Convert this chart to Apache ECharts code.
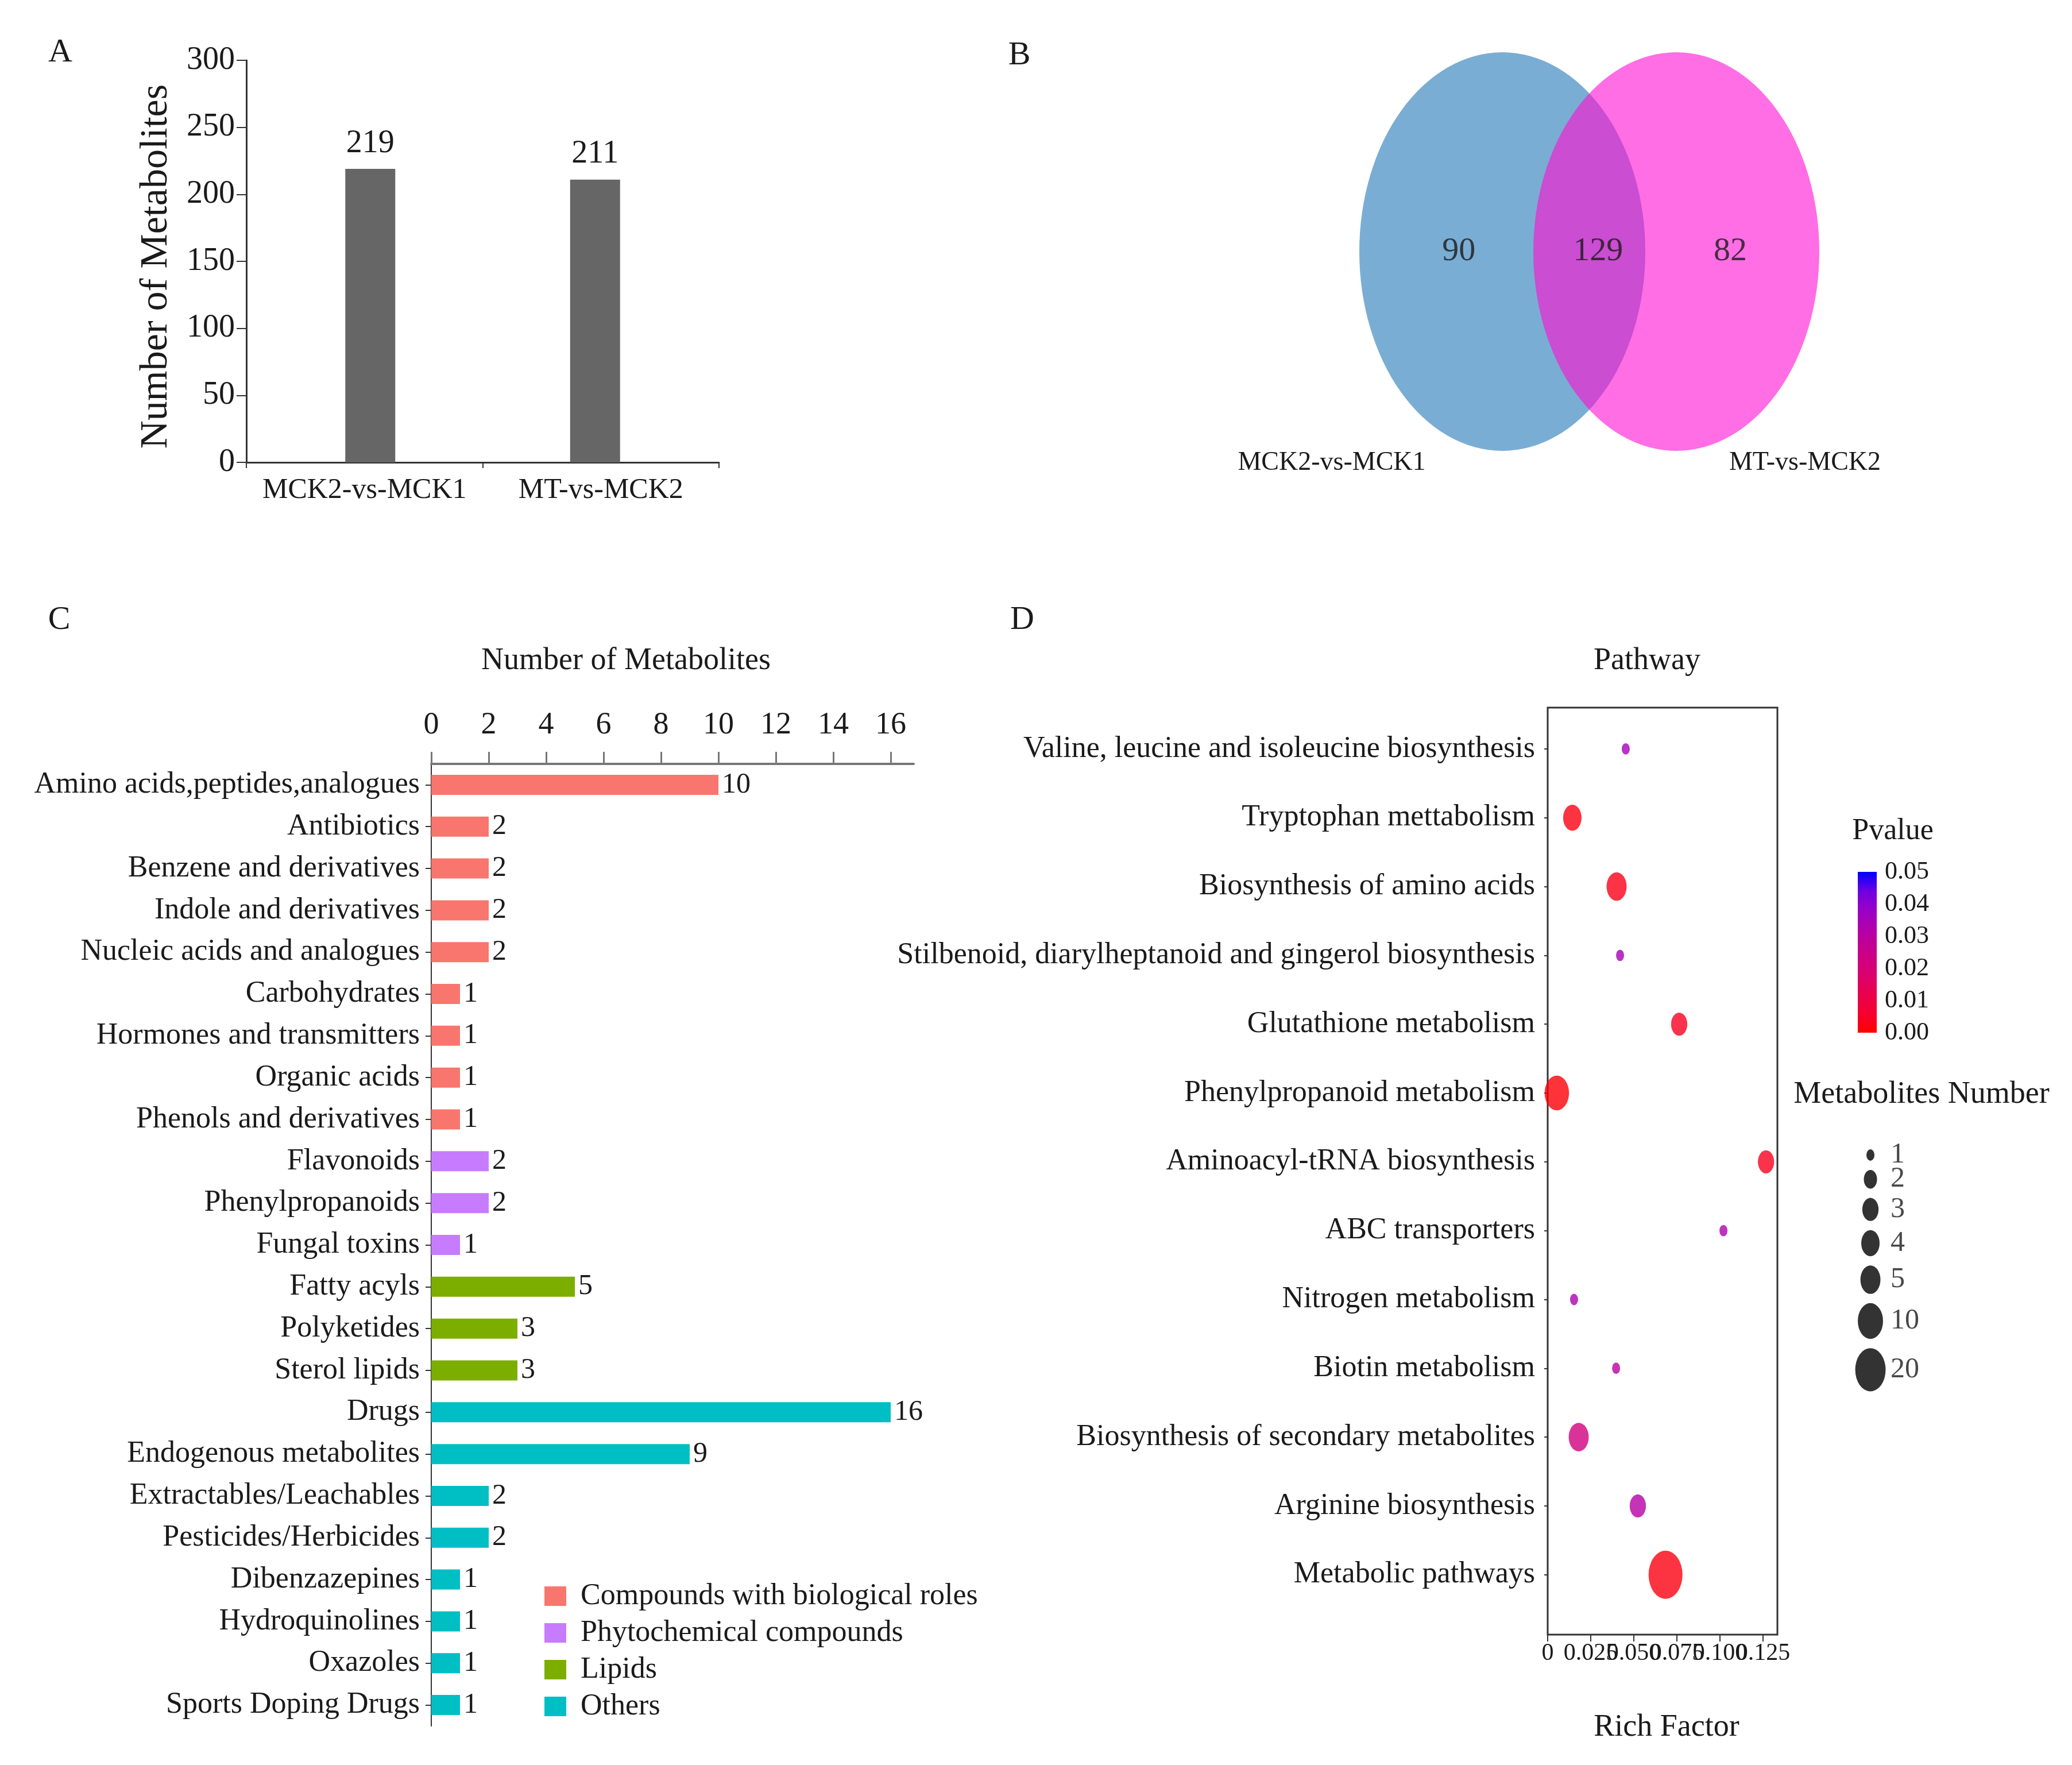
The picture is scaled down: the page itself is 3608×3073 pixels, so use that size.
<!DOCTYPE html>
<html><head><meta charset="utf-8">
<script src="https://cdn.jsdelivr.net/npm/echarts@6/dist/echarts.min.js"></script>
<style>html,body{margin:0;padding:0;background:#fff;overflow:hidden}#c{width:3608px;height:3073px}</style>
</head><body><div id="c"></div>
<script>
// ---------- Panel A ----------
const compareGroups = ['MCK2-vs-MCK1', 'MT-vs-MCK2'];
const compareCounts = [219, 211];
// ---------- Panel B ----------
const vennSets = ['MCK2-vs-MCK1', 'MT-vs-MCK2'];
const vennCounts = [90, 129, 82]; // only A, shared, only B
// ---------- Panel C ----------
const classCategories = ['Amino acids,peptides,analogues', 'Antibiotics', 'Benzene and derivatives', 'Indole and derivatives', 'Nucleic acids and analogues', 'Carbohydrates', 'Hormones and transmitters', 'Organic acids', 'Phenols and derivatives', 'Flavonoids', 'Phenylpropanoids', 'Fungal toxins', 'Fatty acyls', 'Polyketides', 'Sterol lipids', 'Drugs', 'Endogenous metabolites', 'Extractables/Leachables', 'Pesticides/Herbicides', 'Dibenzazepines', 'Hydroquinolines', 'Oxazoles', 'Sports Doping Drugs'];
const classCounts = [10, 2, 2, 2, 2, 1, 1, 1, 1, 2, 2, 1, 5, 3, 3, 16, 9, 2, 2, 1, 1, 1, 1];
const groupNames = ['Compounds with biological roles', 'Phytochemical compounds', 'Lipids', 'Others'];
const classGroupIndex = [0, 0, 0, 0, 0, 0, 0, 0, 0, 1, 1, 1, 2, 2, 2, 3, 3, 3, 3, 3, 3, 3, 3];
const classTicks = [0, 2, 4, 6, 8, 10, 12, 14, 16];
// ---------- Panel D ----------
const pathways = ['Valine, leucine and isoleucine biosynthesis', 'Tryptophan mettabolism', 'Biosynthesis of amino acids', 'Stilbenoid, diarylheptanoid and gingerol biosynthesis', 'Glutathione metabolism', 'Phenylpropanoid metabolism', 'Aminoacyl-tRNA biosynthesis', 'ABC transporters', 'Nitrogen metabolism', 'Biotin metabolism', 'Biosynthesis of secondary metabolites', 'Arginine biosynthesis', 'Metabolic pathways'];
const richFactor = [0.0453, 0.0143, 0.0400, 0.0420, 0.0763, 0.0053, 0.1267, 0.1020, 0.0153, 0.0397, 0.0180, 0.0523, 0.0684];
const pValue = [0.035, 0.002, 0.003, 0.035, 0.004, 0.001, 0.004, 0.033, 0.034, 0.030, 0.022, 0.031, 0.002];
const metaboliteNumber = [1, 4, 5, 1, 3, 9, 3, 1, 1, 1, 5, 3, 32];
const richTicks = [0, 0.025, 0.05, 0.075, 0.1, 0.125];
const richTickLabels = ['0', '0.025', '0.050', '0.075', '0.100', '0.125'];
const pTicks = [0, 0.01, 0.02, 0.03, 0.04, 0.05];
const pTickLabels = ['0.00', '0.01', '0.02', '0.03', '0.04', '0.05'];
const sizeLegend = [1, 2, 3, 4, 5, 10, 20];

// ---------- styling ----------
const FONT = "'Liberation Serif', 'Times New Roman', serif";
const INK = '#1a1a1a';
const groupColors = ['#F8766D', '#C77CFF', '#7CAE00', '#00BFC4'];
const pStops = [[0, '#FF0000'], [0.125, '#F40031'], [0.25, '#E80050'], [0.375, '#D90072'], [0.5, '#C90088'], [0.625, '#B600A6'], [0.75, '#9C00C4'], [0.875, '#7300E0'], [1, '#0000FF']];

function dotW(n) { return 14 + 13 * Math.log(n); }
function dotSize(n) { const w = dotW(n); return [w, w * 1.42]; }

const sizeLegendY = [];
let acc = 21;
sizeLegend.forEach((n, i) => {
  if (i > 0) acc += (dotSize(sizeLegend[i - 1])[1] + dotSize(n)[1]) / 2 + 16;
  sizeLegendY.push(acc);
});

function txt(text, x, y, size, extra) {
  return Object.assign({
    type: 'text', x: x, y: y, silent: true,
    style: { text: text, fontSize: size, fontFamily: FONT, fill: INK, align: 'center', verticalAlign: 'middle', textAlign: 'center', textVerticalAlign: 'middle' }
  }, extra || {});
}
function lab(size, extra) {
  return Object.assign({ fontSize: size, fontFamily: FONT, color: INK }, extra || {});
}
function tickLabel(ticks, labels) {
  return v => { const k = ticks.findIndex(t => Math.abs(t - v) < 1e-9); return k >= 0 ? labels[k] : ''; };
}
// rich-factor labels split over two overlaid axes so none is auto-hidden
const richTicksEven = richTicks.filter((_, i) => i % 2 === 0);
const richTicksOdd = richTicks.filter((_, i) => i % 2 === 1);

const hidden = { show: false };
const chart = echarts.init(document.getElementById('c'), null, { renderer: 'canvas' });

const classSeries = groupNames.map((g, gi) => ({
  name: g, type: 'bar', xAxisIndex: 2, yAxisIndex: 2, stack: 'cls', barWidth: 35,
  itemStyle: { color: groupColors[gi] },
  label: lab(50, { show: true, position: 'right', distance: 6, formatter: p => p.value }),
  data: classCounts.map((v, i) => classGroupIndex[i] === gi ? v : '-')
}));

// panel A: one series per comparison (second group first so the bars sit as in the figure)
const compareSeries = [1, 0].map(k => ({
  type: 'bar', xAxisIndex: 0, yAxisIndex: 0, barWidth: 87, barGap: '-77%',
  itemStyle: { color: '#666666' },
  label: lab(56, { show: true, position: 'top', distance: 16 }),
  data: compareCounts.map((v, i) => i === k ? v : '-')
}));

chart.setOption({
  animation: false,
  backgroundColor: '#ffffff',
  textStyle: { fontFamily: FONT, color: INK },
  grid: [
    { left: 429, top: 105, width: 823, height: 700 },
    { left: 2313, top: 88, width: 909, height: 700 },
    { left: 751, top: 1330, width: 840, height: 1675 },
    { left: 2695, top: 1232, width: 400, height: 1614, show: true, borderColor: '#333', borderWidth: 3, backgroundColor: 'transparent' },
    { left: 3235, top: 1518, width: 33, height: 280 },
    { left: 3200, top: 1990, width: 200, height: 440 }
  ],
  xAxis: [
    { gridIndex: 0, type: 'category', data: compareGroups,
      axisLine: { onZero: false, lineStyle: { color: '#333', width: 3 } },
      axisTick: { show: true, length: 10, lineStyle: { color: '#333', width: 2 } },
      axisLabel: lab(50, { margin: 24, interval: 0, hideOverlap: false }) },
    { gridIndex: 1, type: 'value', min: -1, max: 2, show: false },
    { gridIndex: 2, type: 'value', position: 'top', min: 0, max: 16.8,
      axisLine: { show: true, onZero: false, lineStyle: { color: '#777', width: 4 } },
      axisTick: { show: true, length: 21, customValues: classTicks, lineStyle: { color: '#777', width: 3 } },
      axisLabel: lab(54, { margin: 40, customValues: classTicks, hideOverlap: false, showMinLabel: true, showMaxLabel: true }),
      splitLine: hidden },
    { gridIndex: 3, type: 'value', position: 'bottom', offset: 0, min: 0, max: 0.1333,
      axisLine: { show: false, onZero: false },
      axisTick: { show: true, length: 12, customValues: richTicks, lineStyle: { color: '#333', width: 2 } },
      axisLabel: lab(42, { margin: 12, hideOverlap: false, showMinLabel: true, showMaxLabel: true, customValues: richTicksEven,
        formatter: tickLabel(richTicks, richTickLabels) }),
      splitLine: hidden },
    { gridIndex: 4, type: 'category', data: ['Pvalue'], show: false },
    { gridIndex: 5, type: 'value', min: 0, max: 200, show: false },
    { gridIndex: 3, type: 'value', position: 'bottom', offset: 0, min: 0, max: 0.1333,
      axisLine: { show: false, onZero: false },
      axisTick: { show: false },
      axisLabel: lab(42, { margin: 12, hideOverlap: false, showMinLabel: true, showMaxLabel: true, customValues: richTicksOdd,
        formatter: tickLabel(richTicks, richTickLabels) }),
      splitLine: hidden }
  ],
  yAxis: [
    { gridIndex: 0, type: 'value', min: 0, max: 300, interval: 50,
      axisLine: { show: true, onZero: false, lineStyle: { color: '#333', width: 3 } },
      axisTick: { show: true, length: 17, lineStyle: { color: '#333', width: 2 } },
      axisLabel: lab(56, { margin: 20, showMinLabel: true, showMaxLabel: true }),
      splitLine: hidden },
    { gridIndex: 1, type: 'value', min: -1, max: 1, show: false },
    { gridIndex: 2, type: 'category', inverse: true, data: classCategories,
      axisLine: { show: true, onZero: false, lineStyle: { color: '#333', width: 2 } },
      axisTick: { show: true, length: 10, alignWithLabel: true, lineStyle: { color: '#333', width: 2 } },
      axisLabel: lab(52, { margin: 20, interval: 0, hideOverlap: false }) },
    { gridIndex: 3, type: 'value', position: 'left', inverse: true, min: -0.6, max: 12.87,
      axisLine: { show: false, onZero: false },
      axisTick: { show: true, length: 6, customValues: pathways.map((_, i) => i), lineStyle: { color: '#333', width: 2 } },
      axisLabel: lab(52, { margin: 22, hideOverlap: false, showMinLabel: true, showMaxLabel: true, customValues: pathways.map((_, i) => i),
        formatter: v => pathways[Math.round(v)] || '' }),
      splitLine: hidden },
    { gridIndex: 4, type: 'value', position: 'right', min: 0, max: 0.05,
      axisLine: { show: false, onZero: false }, axisTick: { show: false }, splitLine: hidden,
      axisLabel: lab(44, { margin: 14, customValues: pTicks, hideOverlap: false, showMinLabel: true, showMaxLabel: true,
        formatter: tickLabel(pTicks, pTickLabels) }) },
    { gridIndex: 5, type: 'value', inverse: true, min: 0, max: 440, show: false }
  ],
  legend: {
    data: groupNames, orient: 'vertical', left: 943, top: 2748, icon: 'rect',
    itemWidth: 38, itemHeight: 34, itemGap: 12,
    textStyle: lab(52, { padding: [0, 0, 0, 20] })
  },
  visualMap: {
    type: 'continuous', show: false, seriesIndex: 9, dimension: 2, min: 0, max: 0.05,
    inRange: { color: pStops.map(s => s[1]) }
  },
  series: [
    ...compareSeries,
    { type: 'scatter', xAxisIndex: 1, yAxisIndex: 1, silent: true, symbol: 'circle', symbolSize: [498, 694],
      itemStyle: { color: '#7AADD3', opacity: 1 }, data: [[0, 0]] },
    { type: 'scatter', xAxisIndex: 1, yAxisIndex: 1, silent: true, symbol: 'circle', symbolSize: [498, 694],
      itemStyle: { color: 'rgb(255,13,210)', opacity: 0.6 }, data: [[1, 0]] },
    { type: 'scatter', xAxisIndex: 1, yAxisIndex: 1, silent: true, symbolSize: 0, z: 5,
      label: lab(58, { show: true, position: 'inside', formatter: p => p.value[2] }),
      data: [[-0.25, 0, vennCounts[0]], [0.55, 0, vennCounts[1]], [1.31, 0, vennCounts[2]]] },
    ...classSeries,
    { type: 'scatter', xAxisIndex: 3, yAxisIndex: 3, symbol: 'circle',
      symbolSize: v => dotSize(v[3]),
      data: pathways.map((p, i) => [richFactor[i], i, pValue[i], metaboliteNumber[i]]) },
    { type: 'bar', xAxisIndex: 4, yAxisIndex: 4, barWidth: '100%', silent: true, data: [0.05],
      itemStyle: { color: { type: 'linear', x: 0, y: 1, x2: 0, y2: 0, colorStops: pStops.map(s => ({ offset: s[0], color: s[1] })) } } },
    { type: 'scatter', xAxisIndex: 5, yAxisIndex: 5, silent: true, symbol: 'circle',
      symbolSize: v => dotSize(v[2]), itemStyle: { color: '#000' },
      data: sizeLegend.map((n, i) => [57, sizeLegendY[i], n]) },
    { type: 'scatter', xAxisIndex: 5, yAxisIndex: 5, silent: true, symbolSize: 0,
      label: lab(50, { show: true, position: 'right', distance: 0, formatter: p => p.value[2] }),
      data: sizeLegend.map((n, i) => [92, sizeLegendY[i], n]) }
  ],
  graphic: [
    txt('A', 105, 92, 58),
    txt('B', 1775, 97, 58),
    txt('C', 103, 1080, 58),
    txt('D', 1780, 1080, 58),
    txt('Number of Metabolites', 272, 464, 68, { rotation: Math.PI / 2 }),
    txt(vennSets[0], 2319, 806, 46),
    txt(vennSets[1], 3143, 806, 46),
    txt('Number of Metabolites', 1090, 1151, 54),
    txt('Pathway', 2868, 1151, 54),
    txt('Rich Factor', 2902, 3008, 54),
    txt('Pvalue', 3296, 1447, 52),
    txt('Metabolites Number', 3346, 1906, 54)
  ]
});
</script></body></html>
